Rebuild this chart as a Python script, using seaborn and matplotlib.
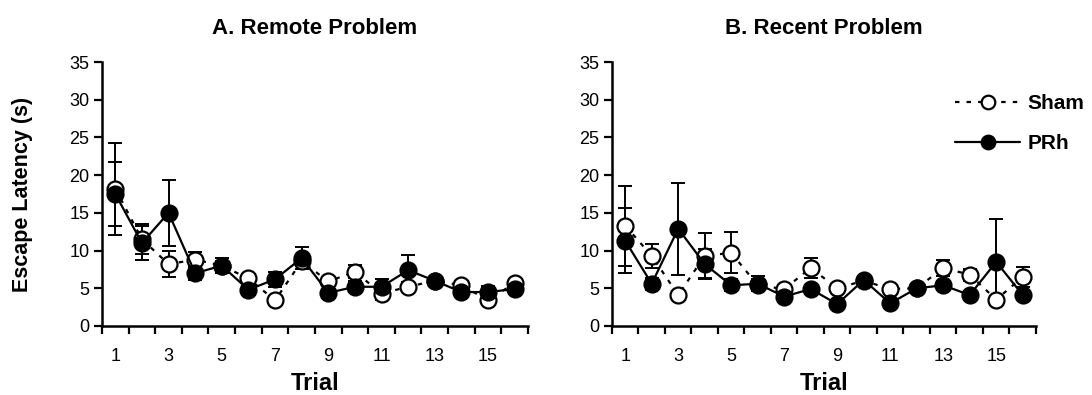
import numpy as np
import pandas as pd
import matplotlib
matplotlib.use("Agg")
import matplotlib.pyplot as plt
import seaborn as sns
from matplotlib.ticker import MultipleLocator, FixedLocator

trials = list(range(1, 17))

A_sham = [18.2, 11.5, 8.2, 8.8, 8.0, 6.3, 3.4, 8.6, 5.9, 7.2, 4.3, 5.2, 6.0, 5.4, 3.4, 5.7]
A_prh = [17.5, 11.0, 15.0, 7.0, 8.0, 4.8, 6.2, 9.0, 4.4, 5.2, 5.2, 7.4, 6.0, 4.5, 4.5, 4.9]
A_sham_err = [6.1, 2.0, 1.7, 1.0, 0.6, 0.5, 0.6, 0.6, 0.5, 0.9, 0.9, 0.6, 0.4, 0.5, 0.5, 0.5]
A_prh_err = [4.2, 2.3, 4.4, 0.9, 1.0, 0.5, 1.0, 1.5, 0.5, 0.7, 1.0, 2.0, 0.5, 0.5, 0.8, 0.6]

B_sham = [13.3, 9.3, 4.1, 9.3, 9.7, 5.4, 4.9, 7.7, 5.0, 6.0, 4.9, 5.0, 7.7, 6.8, 3.5, 6.5]
B_prh = [11.3, 5.6, 12.9, 8.2, 5.4, 5.6, 3.9, 4.9, 2.9, 6.1, 3.0, 5.0, 5.4, 4.1, 8.5, 4.1]
B_sham_err = [5.3, 1.6, 0.5, 3.0, 2.7, 0.8, 0.6, 1.3, 0.5, 0.5, 0.5, 0.5, 1.1, 0.8, 0.5, 1.3]
B_prh_err = [4.3, 0.8, 6.1, 2.0, 0.8, 1.0, 0.5, 0.6, 0.5, 0.5, 0.5, 0.5, 0.6, 0.5, 5.7, 0.5]

titles = ["A. Remote Problem", "B. Recent Problem"]
groups = ["Sham", "PRh"]

sns.set_theme(style="ticks")
plt.rcParams['font.family'] = ['Liberation Sans', 'DejaVu Sans']
plt.rcParams['text.color'] = 'black'
plt.rcParams['axes.labelcolor'] = 'black'
plt.rcParams['xtick.color'] = 'black'
plt.rcParams['ytick.color'] = 'black'

fig = plt.figure(figsize=(10.92, 3.95), dpi=100)
axA = fig.add_axes([0.0934, 0.1747, 0.3901, 0.6683])
axB = fig.add_axes([0.5604, 0.1747, 0.3883, 0.6683])

panels = [
    (axA, A_sham, A_sham_err, A_prh, A_prh_err),
    (axB, B_sham, B_sham_err, B_prh, B_prh_err),
]

for i, (ax, sham, sham_err, prh, prh_err) in enumerate(panels):
    df = pd.DataFrame({
        "Trial": trials * 2,
        "Latency": sham + prh,
        "Group": ["Sham"] * 16 + ["PRh"] * 16,
    })
    ax.errorbar(trials, sham, yerr=sham_err, fmt="none", ecolor="black",
                elinewidth=1.4, capsize=5, capthick=1.4, zorder=2)
    ax.errorbar(trials, prh, yerr=prh_err, fmt="none", ecolor="black",
                elinewidth=1.4, capsize=5, capthick=1.4, zorder=2)
    sns.lineplot(data=df[df.Group == "Sham"], x="Trial", y="Latency", ax=ax,
                 color="black", linestyle=(0, (2.0, 3.2)), linewidth=1.6,
                 marker="o", markersize=11.5, markerfacecolor="white",
                 markeredgecolor="black", markeredgewidth=1.6, label="Sham",
                 zorder=3)
    sns.lineplot(data=df[df.Group == "PRh"], x="Trial", y="Latency", ax=ax,
                 color="black", linestyle="-", linewidth=1.6,
                 marker="o", markersize=11.5, markerfacecolor="black",
                 markeredgecolor="black", markeredgewidth=1.6, label="PRh",
                 zorder=4)
    ax.set_xlim(0.5, 16.5)
    ax.set_ylim(0, 35)
    ax.yaxis.set_major_locator(MultipleLocator(5))
    ax.xaxis.set_major_locator(FixedLocator([1, 3, 5, 7, 9, 11, 13, 15]))
    ax.xaxis.set_minor_locator(FixedLocator(np.arange(0.5, 17, 1)))
    ax.tick_params(axis="x", which="major", length=0, labelsize=13, pad=16,
                   colors="black")
    ax.tick_params(axis="x", which="minor", length=6, width=1.6, direction="out",
                   colors="black")
    ax.tick_params(axis="y", which="major", length=6, width=1.6, labelsize=13,
                   pad=3, colors="black")
    for s in ["left", "bottom"]:
        ax.spines[s].set_linewidth(1.8)
        ax.spines[s].set_color("black")
    sns.despine(ax=ax)
    ax.set_title(titles[i], fontsize=16, fontweight="bold", pad=20, color="black")
    ax.set_xlabel("Trial", fontsize=17, fontweight="bold", labelpad=5)
    if i == 0:
        ax.set_ylabel("Escape Latency (s)", fontsize=15.5, fontweight="bold",
                      labelpad=26)
    else:
        ax.set_ylabel("")
    if i == 1:
        ax.legend(loc="upper left", bbox_to_anchor=(0.79, 0.91), frameon=False,
                  prop={"weight": "bold", "size": 15}, handlelength=3.1,
                  handletextpad=0.38, labelspacing=1.0, borderaxespad=0,
                  markerscale=0.85)
    else:
        leg = ax.get_legend()
        if leg is not None:
            leg.remove()

fig.savefig("out.png", dpi=100)
